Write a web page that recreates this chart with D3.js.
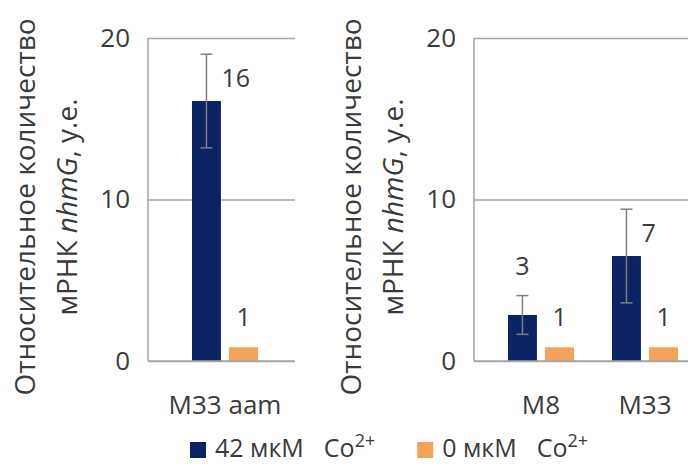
<!DOCTYPE html>
<html>
<head>
<meta charset="utf-8">
<script src="https://cdnjs.cloudflare.com/ajax/libs/d3/7.8.5/d3.min.js"></script>
<style>
	body { margin: 0; background: #ffffff; }
	text { font-family: "Open Sans", sans-serif; fill: #3a3a3a; }
</style>
</head>
<body>
<script>
	// data
	var yTicks = [0, 10, 20];
	var seriesKeys = ["co42", "co0"];
	var seriesNames = ["42 мкМ", "0 мкМ"];

	var leftCategories = ["M33 aam"];
	var leftCo42 = [16.1];
	var leftCo0 = [0.85];
	var leftErr42 = [2.9];

	var rightCategories = ["M8", "M33"];
	var rightCo42 = [2.85, 6.5];
	var rightCo0 = [0.85, 0.85];
	var rightErr42 = [1.2, 2.9];

	var colors = { co42: "#0b2263", co0: "#f4a25a" };
	var gridColor = "#a6a6a6";

	var width = 688,
		height = 464;

	var svg = d3.select("body").append("svg")
		.attr("width", width)
		.attr("height", height);

	var y = d3.scaleLinear().domain([0, 20]).range([361, 38]);

	function Panel(opts) {
		this.axisX = opts.axisX;
		this.plotRight = opts.plotRight;
		this.bandRange = opts.bandRange;
		this.categories = opts.categories;
		this.co42 = opts.co42;
		this.co0 = opts.co0;
		this.err42 = opts.err42;
		this.g = svg.append("g");
	}

	Panel.prototype.init = function() {
		this.x = d3.scaleBand().domain(this.categories).range(this.bandRange);
		this.inner = d3.scaleBand().domain(seriesKeys).range([-33, 33]).paddingInner(0.22);
		this.addGrid();
		this.addTitle();
		this.addBars();
		this.addErrors();
		this.addLabels();
		this.addCategories();
	};

	Panel.prototype.addGrid = function() {
		var axis = this.g.append("g")
			.attr("transform", "translate(" + this.axisX + ",0)")
			.call(d3.axisLeft(y).tickValues(yTicks)
				.tickSize(-(this.plotRight - this.axisX))
				.tickPadding(18));
		axis.select(".domain").remove();
		axis.selectAll(".tick line")
			.style("stroke", gridColor)
			.style("stroke-width", 1.5);
		axis.selectAll(".tick text")
			.style("font-family", "'Open Sans', sans-serif")
			.style("font-size", "26px")
			.style("fill", "#3a3a3a");

		this.g.append("line")
			.attr("x1", this.axisX).attr("x2", this.axisX)
			.attr("y1", y(0)).attr("y2", y(20))
			.style("stroke", gridColor)
			.style("stroke-width", 1.5);
	};

	Panel.prototype.addTitle = function() {
		var cy = 207;
		this.g.append("text")
			.attr("transform", "translate(" + (this.axisX - 113) + "," + cy + ") rotate(-90)")
			.attr("text-anchor", "middle")
			.style("font-size", "28px")
			.text("Относительное количество");

		var t2 = this.g.append("text")
			.attr("transform", "translate(" + (this.axisX - 71) + "," + cy + ") rotate(-90)")
			.attr("text-anchor", "middle")
			.style("font-size", "28px");
		t2.append("tspan").text("мРНК ");
		t2.append("tspan").style("font-style", "italic").text("nhmG");
		t2.append("tspan").text(", у.е.");
	};

	Panel.prototype.rows = function() {
		var self = this;
		var rows = [];
		this.categories.forEach(function(c, i) {
			rows.push({ cat: c, key: "co42", value: self.co42[i], err: self.err42[i] });
			rows.push({ cat: c, key: "co0", value: self.co0[i], err: 0 });
		});
		return rows;
	};

	Panel.prototype.cx = function(d) {
		return this.x(d.cat) + this.x.bandwidth() / 2 + this.inner(d.key) + this.inner.bandwidth() / 2;
	};

	Panel.prototype.addBars = function() {
		var self = this;
		this.g.selectAll("rect.bar")
			.data(this.rows())
			.enter().append("rect")
			.attr("class", "bar")
			.attr("x", function(d) { return self.cx(d) - self.inner.bandwidth() / 2; })
			.attr("width", this.inner.bandwidth())
			.attr("y", function(d) { return y(d.value); })
			.attr("height", function(d) { return y(0) - y(d.value); })
			.style("fill", function(d) { return colors[d.key]; });

		this.g.append("line")
			.attr("x1", this.axisX).attr("x2", this.plotRight)
			.attr("y1", y(0)).attr("y2", y(0))
			.style("stroke", gridColor)
			.style("stroke-width", 1.5);
	};

	Panel.prototype.addErrors = function() {
		var self = this;
		var rows = this.rows().filter(function(d) { return d.err > 0; });
		var eg = this.g.selectAll("g.err")
			.data(rows)
			.enter().append("g")
			.attr("class", "err")
			.style("stroke", "#7f7f7f")
			.style("stroke-width", 1.5);
		eg.append("line")
			.attr("x1", function(d) { return self.cx(d); })
			.attr("x2", function(d) { return self.cx(d); })
			.attr("y1", function(d) { return y(d.value + d.err); })
			.attr("y2", function(d) { return y(d.value - d.err); });
		[1, -1].forEach(function(s) {
			eg.append("line")
				.attr("x1", function(d) { return self.cx(d) - 6; })
				.attr("x2", function(d) { return self.cx(d) + 6; })
				.attr("y1", function(d) { return y(d.value + s * d.err); })
				.attr("y2", function(d) { return y(d.value + s * d.err); });
		});
	};

	Panel.prototype.addLabels = function() {
		var self = this;
		this.g.selectAll("text.val")
			.data(this.rows())
			.enter().append("text")
			.attr("class", "val")
			.attr("x", function(d) { return d.err > 2 ? self.cx(d) + 15 : self.cx(d); })
			.attr("y", function(d) {
				var top = y(d.value + d.err);
				return d.err > 2 ? top + 33 : top - 21;
			})
			.attr("text-anchor", function(d) { return d.err > 2 ? "start" : "middle"; })
			.style("font-size", "25px")
			.text(function(d) { return Math.round(d.value); });
	};

	Panel.prototype.addCategories = function() {
		var self = this;
		this.g.selectAll("text.cat")
			.data(this.categories)
			.enter().append("text")
			.attr("class", "cat")
			.attr("x", function(d) { return self.x(d) + self.x.bandwidth() / 2; })
			.attr("y", 414)
			.attr("text-anchor", "middle")
			.style("font-size", "26px")
			.text(function(d) { return d; });
	};

	new Panel({
		axisX: 148, plotRight: 295, bandRange: [148, 302],
		categories: leftCategories, co42: leftCo42, co0: leftCo0, err42: leftErr42
	}).init();

	new Panel({
		axisX: 474, plotRight: 688, bandRange: [489, 697],
		categories: rightCategories, co42: rightCo42, co0: rightCo0, err42: rightErr42
	}).init();

	// legend
	var legend = svg.append("g");
	var lx = 190;
	seriesKeys.forEach(function(k, i) {
		legend.append("rect")
			.attr("x", lx).attr("y", 442)
			.attr("width", 16).attr("height", 16)
			.style("fill", colors[k]);
		var t = legend.append("text")
			.attr("x", lx + 25).attr("y", 457)
			.style("font-size", "25px");
		t.append("tspan").text(seriesNames[i]);
		t.append("tspan").attr("dx", 20).text("Co");
		t.append("tspan").attr("dy", -10).style("font-size", "18px").text("2+");
		var box = t.node().getBBox();
		lx = box.x + box.width + 42;
	});
</script>
</body>
</html>
